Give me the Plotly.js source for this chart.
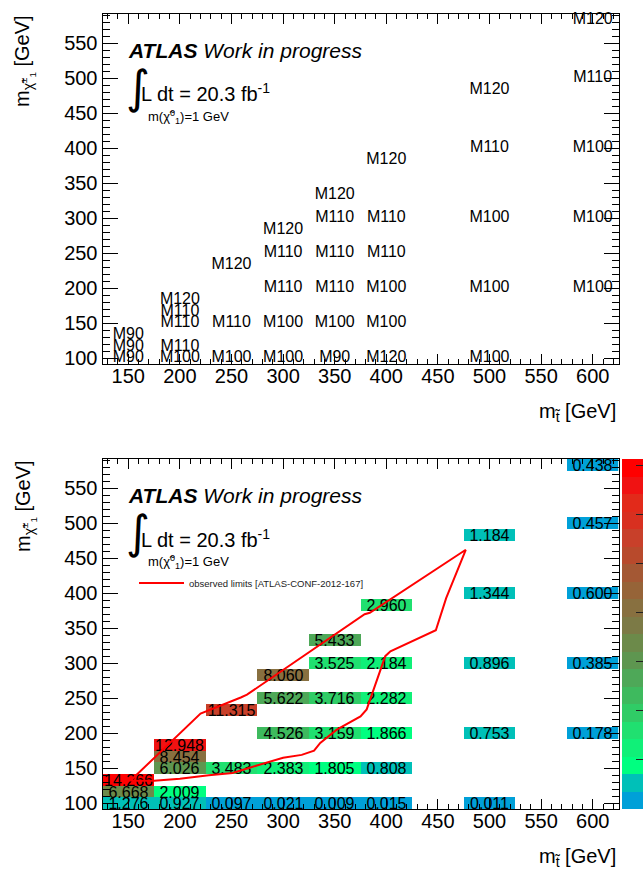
<!DOCTYPE html>
<html><head><meta charset="utf-8">
<script src="https://cdn.plot.ly/plotly-3.0.1.min.js"></script>
<style>html,body{margin:0;padding:0;background:#fff}</style>
</head><body><div id="chart" style="width:643px;height:873px"></div>
<script>
// ---- data ----
const stopMass = [150,150,150, 200,200,200,200,200, 250,250,250, 300,300,300,300,300,
                  350,350,350,350,350,350, 400,400,400,400,400,400, 500,500,500,500,500, 600,600,600,600,600];
const charginoMass = [100,116.67,133.33, 100,116.67,150,166.67,183.33, 100,150,233.33, 100,150,200,250,283.33,
                      100,150,200,250,300,333.33, 100,150,200,250,300,383.33, 100,200,300,400,483.33, 200,300,400,500,583.33];
const limitValue = [1.276,6.668,14.266, 0.927,2.009,6.026,8.454,12.948, 0.097,3.483,11.315, 0.021,2.383,4.526,5.622,8.060,
                    0.009,1.805,3.159,3.716,3.525,5.433, 0.015,0.808,1.866,2.282,2.184,2.960, 0.011,0.753,0.896,1.344,1.184, 0.178,0.385,0.600,0.457,0.438];
const modelLabel = ['M90','M90','M90', 'M100','M110','M110','M110','M120', 'M100','M110','M120', 'M100','M100','M110','M110','M120',
                    'M90','M100','M110','M110','M110','M120', 'M120','M100','M100','M110','M110','M120', 'M100','M100','M100','M110','M120', 'M100','M100','M100','M110','M120'];
// observed limit contour (closed)
const contourStop =     [152,176,198,220,259,265,379,384,477,458,448,404,399,381,375,352,336,330,318,300,266,251,228,200,175,152];
const contourChargino = [132,166,196,228,251,255,370,372,462,393,347,317,310,234,224,205,186,175,169,165,150,143,140,135,132,132];
const xTickVals = [150,200,250,300,350,400,450,500,550,600];
const yTickVals = [100,150,200,250,300,350,400,450,500,550];
const colorbarTicks = [0,2,4,6,8,10,12,14];
const bandColors = ['#00a0d8','#00c0b8','#00ff80','#10f078','#20e070','#30cc66','#3eba5e','#4ea858','#5e9650','#6c8a4a',
                    '#7c7a46','#887040','#966438','#a45834','#b84a2c','#c8402a','#d83020','#e22a1a','#f01212','#ff0000'];
const legendName = 'observed limits [ATLAS-CONF-2012-167]';

// ---- binning (ROOT TH2 layout) ----
const xBinCenters = [150,200,250,300,350,400,450,500,550,600];
const yBinWidth = 50/3;
const yBinCenters = Array.from({length:30},(_,i)=>100+i*yBinWidth);
const zGrid = yBinCenters.map(()=>xBinCenters.map(()=>null));
const tGrid = yBinCenters.map(()=>xBinCenters.map(()=>''));
stopMass.forEach((x,i)=>{
  const ix = xBinCenters.indexOf(x);
  const iy = Math.round((charginoMass[i]-100)/yBinWidth);
  zGrid[iy][ix] = limitValue[i];
  tGrid[iy][ix] = limitValue[i].toFixed(3);
});
const colorscale = [];
bandColors.forEach((c,i)=>{colorscale.push([i/bandColors.length,c],[(i+1)/bandColors.length,c]);});

const F = 'Liberation Sans, Arial, Helvetica, sans-serif';
const W = 643, H = 873;
const px = v => v/W, py = v => 1 - v/H;

function xax(dom, anchor){
  return {domain:dom, anchor:anchor, range:[125,625], showline:true, linecolor:'black', linewidth:1, mirror:'allticks',
    ticks:'inside', ticklen:10, tickwidth:1, tickcolor:'black', tickvals:xTickVals, ticktext:xTickVals.map(String),
    ticklabelstandoff:-6,
    showgrid:false, zeroline:false, tickfont:{size:20,color:'black',family:F},
    minor:{ticks:'inside', ticklen:5, dtick:10, tick0:0, tickcolor:'black', showgrid:false}};
}
function yax(dom, anchor){
  return {domain:dom, anchor:anchor, range:[100-yBinWidth/2, 100+29.5*yBinWidth], showline:true, linecolor:'black', linewidth:1, mirror:'allticks',
    ticks:'inside', ticklen:15, tickwidth:1, tickcolor:'black', tickvals:yTickVals, ticktext:yTickVals.map(String),
    showgrid:false, zeroline:false, tickfont:{size:20,color:'black',family:F},
    minor:{ticks:'inside', ticklen:7, dtick:10, tick0:0, tickcolor:'black', showgrid:false}};
}
const xDom = [px(102.5), px(618.5)];
const topDom = [py(364), py(14)];
const botDom = [py(809), py(459)];

const traces = [
  {type:'scatter', mode:'text', x:stopMass, y:charginoMass, text:modelLabel, textposition:'middle center',
   textfont:{size:16,color:'black',family:F}, xaxis:'x', yaxis:'y', showlegend:false, cliponaxis:false, hoverinfo:'skip'},
  {type:'heatmap', x:xBinCenters, y:yBinCenters, z:zGrid, text:tGrid, texttemplate:'%{text}',
   textfont:{size:16,color:'black',family:F}, colorscale:colorscale, zmin:0, zmax:Math.max(...limitValue),
   xaxis:'x2', yaxis:'y2', xgap:0, ygap:0, hoverinfo:'skip', showscale:true,
   colorbar:{x:px(622), xanchor:'left', y:1-809/H, yanchor:'bottom', len:350/H, lenmode:'fraction',
     thickness:23, thicknessmode:'pixels', xpad:0, ypad:0, outlinewidth:0, ticks:'inside', ticklen:9,
     tickcolor:'#222', tickvals:colorbarTicks, showticklabels:false}},
  {type:'scatter', mode:'lines', x:contourStop, y:contourChargino, xaxis:'x2', yaxis:'y2',
   line:{color:'#ff0000', width:2}, name:legendName, showlegend:true, hoverinfo:'skip'}
];

function panelAnn(o){
  return [
    {text:'<b><i>ATLAS</i></b><i> Work in progress</i>', x:px(126), y:py(50+o), xanchor:'left', yanchor:'middle', font:{size:21,color:'black',family:F}},
    {text:'∫', x:px(124), y:py(87+o), xanchor:'left', yanchor:'middle', font:{size:46,color:'black',family:'DejaVu Sans'}},
    {text:'L dt = 20.3 fb<sup>-1</sup>', x:px(139), y:py(93+o), xanchor:'left', yanchor:'middle', font:{size:20,color:'black',family:F}},
    {text:'m(χ̃<sup>0</sup><sub>1</sub>)=1 GeV', x:px(146), y:py(117+o), xanchor:'left', yanchor:'middle', font:{size:13,color:'black',family:F}},
    {text:'m<sub>t̃</sub> [GeV]', x:px(618), y:py(412+o), xanchor:'right', yanchor:'middle', font:{size:20,color:'black',family:F}},
    {text:'m<sub>χ̃<sup>±</sup><sub>1</sub></sub> [GeV]', x:px(25), y:py(13+o), xanchor:'center', yanchor:'top', textangle:-90, font:{size:20,color:'black',family:F}}
  ];
}
const annotations = panelAnn(0).concat(panelAnn(445)).map(a=>Object.assign({xref:'paper', yref:'paper', showarrow:false}, a));

const layout = {
  width:W, height:H, margin:{l:0,r:0,t:0,b:0,autoexpand:false},
  paper_bgcolor:'white', plot_bgcolor:'white',
  xaxis:xax(xDom,'y'), yaxis:yax(topDom,'x'),
  xaxis2:xax(xDom,'y2'), yaxis2:yax(botDom,'x2'),
  showlegend:true,
  legend:{x:px(134), y:py(583), xanchor:'left', yanchor:'middle', bgcolor:'rgba(0,0,0,0)', borderwidth:0,
          font:{size:9.5,color:'#222',family:F}, itemwidth:45},
  annotations:annotations
};
Plotly.newPlot('chart', traces, layout, {staticPlot:true, displayModeBar:false});
</script></body></html>
